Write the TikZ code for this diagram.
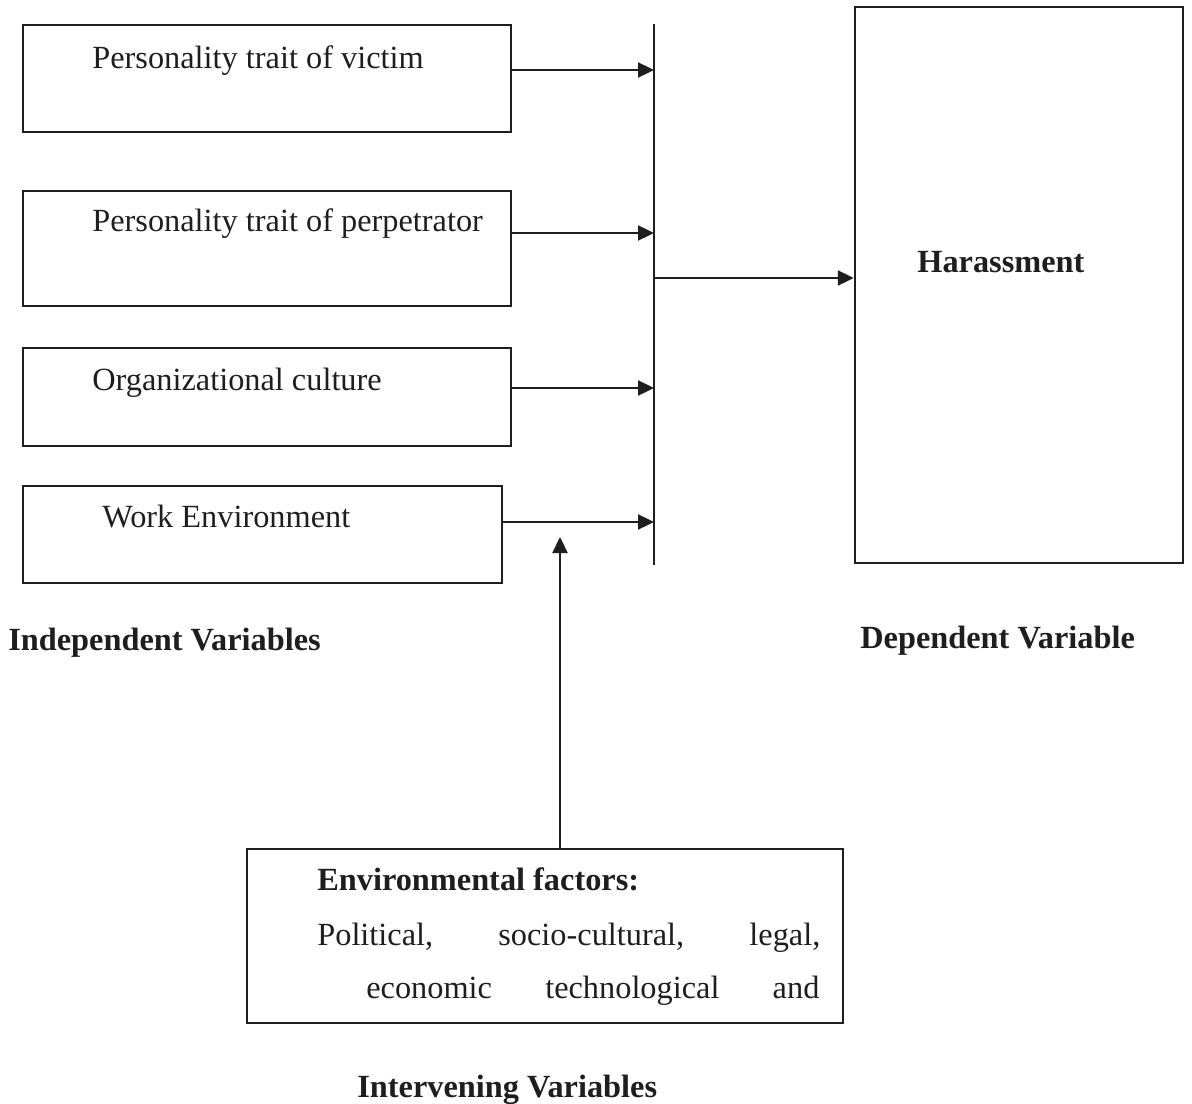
\documentclass[tikz,border=0pt]{standalone}
\usepackage{fontspec}
\setmainfont{Liberation Serif}
\usetikzlibrary{arrows.meta, positioning, calc}
\definecolor{ink}{HTML}{1E1E1E}
\tikzset{
  varbox/.style 2 args={
    rectangle, draw=ink, line width=1.4pt,
    minimum width=#1, minimum height=#2, inner sep=0pt
  },
  txt/.style={
    anchor=base west, inner sep=0pt, text=ink,
    font=\fontsize{18.4}{22}\selectfont
  },
  btxt/.style={txt, font=\fontsize{18.4}{22}\selectfont\bfseries},
  arrow/.style={-{Triangle[length=3.2mm, width=3mm]}, line width=1.3pt, draw=ink}
}

\begin{document}
\begin{tikzpicture}[x=0.2mm, y=-0.2mm]
  \useasboundingbox (0,0) rectangle (1192,1104);

  % independent variables
  \node[varbox={9.76cm}{2.14cm}] (victimbox) at (267,78.5) {};
  \node[varbox={9.76cm}{2.30cm}] (perpbox) at (267,248.5) {};
  \node[varbox={9.76cm}{1.96cm}] (culturebox) at (267,397) {};
  \node[varbox={9.58cm}{1.94cm}] (workbox) at (262.5,534.5) {};
  \node[txt] (victim) at (92,68) {Personality trait of victim};
  \node[txt] (perp) at (92,231) {Personality trait of perpetrator};
  \node[txt] (culture) at (92,390) {Organizational culture};
  \node[txt] (work) at (102,527) {Work Environment};
  \node[btxt] (indep) at (8,650) {Independent Variables};

  % dependent variable
  \node[varbox={6.56cm}{11.12cm}] (harassbox) at (1019,285) {};
  \node[btxt] (harass) at (917,272) {Harassment};
  \node[btxt] (dep) at (860,648) {Dependent Variable};

  % intervening variables
  \node[varbox={11.92cm}{3.48cm}] (envbox) at (545,936) {};
  \node[btxt] (envhead) at (317,890) {Environmental factors:};
  \node[txt] (envone) at (317,945)
    {\makebox[10.06cm][s]{Political, socio-cultural, legal,}};
  \node[txt] (envtwo) at (366,998)
    {\makebox[9.06cm][s]{economic technological and}};
  \node[btxt] (interv) at (357,1097) {Intervening Variables};

  % collecting line
  \coordinate (bustop) at (654,24);
  \coordinate (busbot) at (654,565);
  \coordinate (a1) at (654,70);
  \coordinate (a2) at (654,233);
  \coordinate (a3) at (654,388);
  \coordinate (a4) at (654,522);
  \coordinate (out) at (654,278);
  \coordinate (up) at (560,537);
  \draw[ink, line width=1.4pt] (bustop) -- (busbot);

  \draw[arrow] (victimbox.east |- a1) -- (a1);
  \draw[arrow] (perpbox.east |- a2) -- (a2);
  \draw[arrow] (culturebox.east |- a3) -- (a3);
  \draw[arrow] (workbox.east |- a4) -- (a4);
  \draw[arrow] (out) -- (harassbox.west |- out);
  \draw[arrow] (envbox.north -| up) -- (up);
\end{tikzpicture}
\end{document}
